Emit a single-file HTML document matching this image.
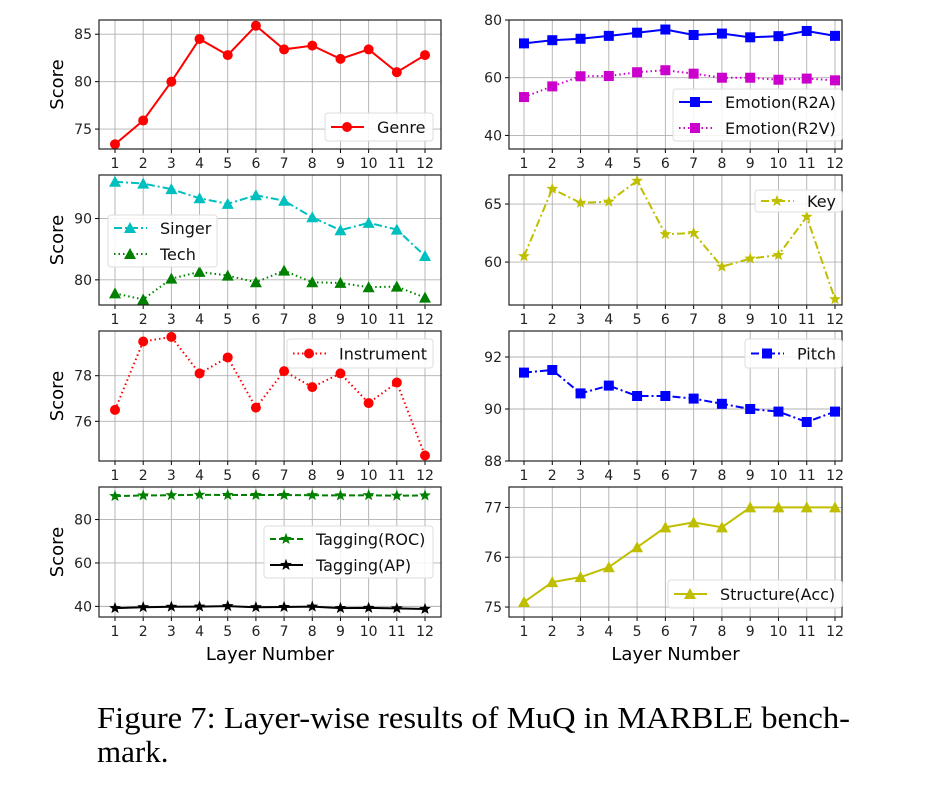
<!DOCTYPE html>
<html><head><meta charset="utf-8"><style>
body{margin:0;background:#fff;}
svg{display:block;font-family:"DejaVu Sans","Liberation Sans",sans-serif;}
</style></head><body>
<svg id="fig" width="926" height="800" viewBox="0 0 926 800">
<text x="97" y="728" font-family="Liberation Serif, serif" font-size="31" textLength="753" lengthAdjust="spacingAndGlyphs">Figure 7: Layer-wise results of MuQ in MARBLE bench-</text>
<text x="97" y="762" font-family="Liberation Serif, serif" font-size="31">mark.</text>
</svg>
<script>
const layers=[1,2,3,4,5,6,7,8,9,10,11,12];
const genre=[73.4,75.9,80.0,84.5,82.8,85.9,83.4,83.8,82.4,83.4,81.0,82.8];
const emoR2A=[71.9,73.0,73.5,74.5,75.6,76.7,74.8,75.3,74.0,74.4,76.2,74.5];
const emoR2V=[53.3,57.0,60.5,60.6,61.9,62.6,61.4,60.0,60.0,59.3,59.7,59.1];
const singer=[96.0,95.7,94.8,93.3,92.4,93.8,92.9,90.2,88.1,89.3,88.2,83.9];
const tech=[77.8,76.8,80.2,81.3,80.7,79.6,81.5,79.6,79.5,78.8,78.9,77.1];
const keyS=[60.5,66.3,65.1,65.2,67.0,62.4,62.5,59.6,60.3,60.6,63.9,56.8];
const instrument=[76.5,79.5,79.7,78.1,78.8,76.6,78.2,77.5,78.1,76.8,77.7,74.5];
const pitch=[91.4,91.5,90.6,90.9,90.5,90.5,90.4,90.2,90.0,89.9,89.5,89.9];
const tagROC=[90.8,91.1,91.2,91.4,91.3,91.3,91.3,91.2,91.1,91.2,91.0,91.1];
const tagAP=[39.2,39.6,39.8,39.9,40.1,39.6,39.7,39.9,39.2,39.3,39.1,38.8];
const structure=[75.1,75.5,75.6,75.8,76.2,76.6,76.7,76.6,77.0,77.0,77.0,77.0];

const NS='http://www.w3.org/2000/svg';
const svg=document.getElementById('fig');
function mk(tag,attrs,parent){const e=document.createElementNS(NS,tag);for(const k in attrs)e.setAttribute(k,attrs[k]);(parent||svg).appendChild(e);return e;}
const DASH={solid:'',dot:'1.5,3',dashdot:'8,3,2,3',dash:'6,3'};
function marker(g,type,x,y,color){
  let m;
  if(type==='o') m=mk('circle',{cx:x,cy:y,r:5,fill:color},g);
  else if(type==='s') m=mk('rect',{x:x-5,y:y-5,width:10,height:10,fill:color},g);
  else if(type==='^') m=mk('polygon',{points:`${x},${y-6} ${x-6},${y+5} ${x+6},${y+5}`,fill:color},g);
  else { let p=[];for(let i=0;i<10;i++){const r=i%2?2.6:6.2;const a=-Math.PI/2+i*Math.PI/5;p.push((x+r*Math.cos(a)).toFixed(1)+','+(y+r*Math.sin(a)).toFixed(1));} m=mk('polygon',{points:p.join(' '),fill:color},g);}
  
  
}
function panel(o){
  const g=mk('g',{});
  
  
  const xs=v=>o.x0+(v-1)*(o.x1-o.x0)/11;
  const ys=v=>o.B-(v-o.ymin)*(o.B-o.T)/(o.ymax-o.ymin);
  layers.forEach(l=>{const gl=mk('line',{x1:xs(l),x2:xs(l),y1:o.T,y2:o.B,stroke:'#b0b0b0','stroke-width':0.9},g);
    
    mk('line',{x1:xs(l),x2:xs(l),y1:o.B,y2:o.B+4,stroke:'#000'},g);
    const t=mk('text',{x:xs(l),y:o.B+19,'font-size':14,'text-anchor':'middle',fill:'#222'},g);t.textContent=l;
    });
  o.yticks.forEach(v=>{const gl=mk('line',{x1:o.L,x2:o.R,y1:ys(v),y2:ys(v),stroke:'#b0b0b0','stroke-width':0.9},g);
    
    mk('line',{x1:o.L-4,x2:o.L,y1:ys(v),y2:ys(v),stroke:'#000'},g);
    const t=mk('text',{x:o.L-7,y:ys(v)+5,'font-size':14,'text-anchor':'end',fill:'#222'},g);t.textContent=v;
    });
  o.series.forEach(s=>{
    const pl=mk('polyline',{points:s.data.map((v,i)=>xs(layers[i])+','+ys(v)).join(' '),fill:'none',stroke:s.color,'stroke-width':2,'stroke-dasharray':DASH[s.ls]},g);
    
    
    s.data.forEach((v,i)=>marker(g,s.m,xs(layers[i]),ys(v),s.color));
  });
  const fr=mk('rect',{x:o.L,y:o.T,width:o.R-o.L,height:o.B-o.T,fill:'none',stroke:'#222','stroke-width':1.2},g);
  
  const lg=o.leg;
  const lgg=mk('g',{},g);
  
  
  mk('rect',{x:lg[0],y:lg[1],width:lg[2]-lg[0],height:lg[3]-lg[1],rx:3,fill:'#fff','fill-opacity':0.85,stroke:'#ddd'},lgg);
  const n=o.series.length, rowH=(lg[3]-lg[1])/n;
  o.series.forEach((s,i)=>{const cy=lg[1]+rowH*(i+0.5);
    const eg=mk('g',{},lgg);
    
    
    mk('line',{x1:lg[0]+6,x2:lg[0]+39,y1:cy,y2:cy,stroke:s.color,'stroke-width':2,'stroke-dasharray':DASH[s.ls]},eg);
    marker(eg,s.m,lg[0]+22,cy,s.color);
    const t=mk('text',{x:lg[0]+52,y:cy+6,'font-size':16,fill:'#111'},eg);t.textContent=s.label;});
  if(o.ylabel){const t=mk('text',{x:0,y:0,'font-size':18,'text-anchor':'middle',transform:`translate(63,${(o.T+o.B)/2}) rotate(-90)`},g);t.textContent='Score';
    }
  if(o.xlabel){const t=mk('text',{x:(o.L+o.R)/2,y:660,'font-size':18,'text-anchor':'middle'},g);t.textContent='Layer Number';
    }
}
const LC={L:99,R:441,x0:115,x1:425}, RC={L:509,R:842,x0:524,x1:835};
const R=[[20,149],[175,305],[331,461],[487,617]];
panel({...LC,T:R[0][0],B:R[0][1],ymin:72.9,ymax:86.5,yticks:[75,80,85],ylabel:1,name:'genre',leg:[325,113,433,141],
 series:[{data:genre,color:'#ff0000',ls:'solid',m:'o',label:'Genre'}]});
panel({...RC,T:R[0][0],B:R[0][1],ymin:35.3,ymax:80,yticks:[40,60,80],name:'emotion',leg:[673,89,842,141],
 series:[{data:emoR2A,color:'#0000ff',ls:'solid',m:'s',label:'Emotion(R2A)'},{data:emoR2V,color:'#cc00cc',ls:'dot',m:'s',label:'Emotion(R2V)'}]});
panel({...LC,T:R[1][0],B:R[1][1],ymin:75.9,ymax:97.1,yticks:[80,90],ylabel:1,name:'singer-tech',leg:[108,215,217,267],
 series:[{data:singer,color:'#00bfbf',ls:'dashdot',m:'^',label:'Singer'},{data:tech,color:'#008000',ls:'dot',m:'^',label:'Tech'}]});
panel({...RC,T:R[1][0],B:R[1][1],ymin:56.3,ymax:67.5,yticks:[60,65],name:'key',leg:[755,190,842,212],
 series:[{data:keyS,color:'#bfbf00',ls:'dashdot',m:'*',label:'Key'}]});
panel({...LC,T:R[2][0],B:R[2][1],ymin:74.26,ymax:79.96,yticks:[76,78],ylabel:1,name:'instrument',leg:[287,339,433,368],
 series:[{data:instrument,color:'#ff0000',ls:'dot',m:'o',label:'Instrument'}]});
panel({...RC,T:R[2][0],B:R[2][1],ymin:88,ymax:93,yticks:[88,90,92],name:'pitch',leg:[745,339,842,368],
 series:[{data:pitch,color:'#0000ff',ls:'dashdot',m:'s',label:'Pitch'}]});
panel({...LC,T:R[3][0],B:R[3][1],ymin:35.1,ymax:95,yticks:[40,60,80],ylabel:1,xlabel:1,name:'tagging',leg:[264,526,433,578],
 series:[{data:tagROC,color:'#008000',ls:'dash',m:'*',label:'Tagging(ROC)'},{data:tagAP,color:'#000000',ls:'solid',m:'*',label:'Tagging(AP)'}]});
panel({...RC,T:R[3][0],B:R[3][1],ymin:74.8,ymax:77.41,yticks:[75,76,77],xlabel:1,name:'structure',leg:[668,580,842,608],
 series:[{data:structure,color:'#bfbf00',ls:'solid',m:'^',label:'Structure(Acc)'}]});
</script>
</body></html>
